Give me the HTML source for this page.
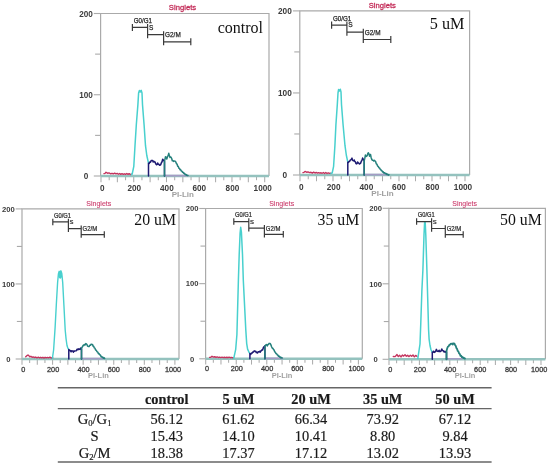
<!DOCTYPE html>
<html><head><meta charset="utf-8"><style>
html,body{margin:0;padding:0;background:#fff;}
svg{display:block;filter:blur(0.3px);}
</style></head><body>
<svg width="550" height="466" viewBox="0 0 550 466" font-family="Liberation Sans, sans-serif">
<rect width="550" height="466" fill="#fff"/>
<path d="M100.6 176V13.5H269V176" fill="none" stroke="#aaaaaa" stroke-width="1.2"/>
<line x1="93.8" y1="176" x2="100.6" y2="176" stroke="#aaaaaa" stroke-width="1.1"/>
<line x1="95.1" y1="135.38" x2="100.6" y2="135.38" stroke="#aaaaaa" stroke-width="1.1"/>
<line x1="93.8" y1="94.75" x2="100.6" y2="94.75" stroke="#aaaaaa" stroke-width="1.1"/>
<line x1="95.1" y1="54.12" x2="100.6" y2="54.12" stroke="#aaaaaa" stroke-width="1.1"/>
<line x1="93.8" y1="13.5" x2="100.6" y2="13.5" stroke="#aaaaaa" stroke-width="1.1"/>
<line x1="101" y1="176" x2="101" y2="182.2" stroke="#acacac" stroke-width="1.05"/>
<line x1="109.19" y1="176" x2="109.19" y2="180.2" stroke="#acacac" stroke-width="1.05"/>
<line x1="117.37" y1="176" x2="117.37" y2="182.2" stroke="#acacac" stroke-width="1.05"/>
<line x1="125.56" y1="176" x2="125.56" y2="180.2" stroke="#acacac" stroke-width="1.05"/>
<line x1="133.74" y1="176" x2="133.74" y2="182.2" stroke="#acacac" stroke-width="1.05"/>
<line x1="141.93" y1="176" x2="141.93" y2="180.2" stroke="#acacac" stroke-width="1.05"/>
<line x1="150.11" y1="176" x2="150.11" y2="182.2" stroke="#acacac" stroke-width="1.05"/>
<line x1="158.3" y1="176" x2="158.3" y2="180.2" stroke="#acacac" stroke-width="1.05"/>
<line x1="166.48" y1="176" x2="166.48" y2="182.2" stroke="#acacac" stroke-width="1.05"/>
<line x1="174.67" y1="176" x2="174.67" y2="180.2" stroke="#acacac" stroke-width="1.05"/>
<line x1="182.85" y1="176" x2="182.85" y2="182.2" stroke="#acacac" stroke-width="1.05"/>
<line x1="191.04" y1="176" x2="191.04" y2="180.2" stroke="#acacac" stroke-width="1.05"/>
<line x1="199.22" y1="176" x2="199.22" y2="182.2" stroke="#acacac" stroke-width="1.05"/>
<line x1="207.41" y1="176" x2="207.41" y2="180.2" stroke="#acacac" stroke-width="1.05"/>
<line x1="215.59" y1="176" x2="215.59" y2="182.2" stroke="#acacac" stroke-width="1.05"/>
<line x1="223.78" y1="176" x2="223.78" y2="180.2" stroke="#acacac" stroke-width="1.05"/>
<line x1="231.96" y1="176" x2="231.96" y2="182.2" stroke="#acacac" stroke-width="1.05"/>
<line x1="240.15" y1="176" x2="240.15" y2="180.2" stroke="#acacac" stroke-width="1.05"/>
<line x1="248.33" y1="176" x2="248.33" y2="182.2" stroke="#acacac" stroke-width="1.05"/>
<line x1="256.51" y1="176" x2="256.51" y2="180.2" stroke="#acacac" stroke-width="1.05"/>
<line x1="264.7" y1="176" x2="264.7" y2="182.2" stroke="#acacac" stroke-width="1.05"/>
<text x="86" y="179" text-anchor="middle" font-size="8.2" fill="#3c3c3c" font-weight="bold">0</text>
<text x="86" y="97.75" text-anchor="middle" font-size="8.2" fill="#3c3c3c" font-weight="bold">100</text>
<text x="86" y="16.5" text-anchor="middle" font-size="8.2" fill="#3c3c3c" font-weight="bold">200</text>
<text x="102.3" y="190.7" text-anchor="middle" font-size="8.2" fill="#3c3c3c" font-weight="bold">0</text>
<text x="134.34" y="190.7" text-anchor="middle" font-size="8.2" fill="#3c3c3c" font-weight="bold">200</text>
<text x="166.88" y="190.7" text-anchor="middle" font-size="8.2" fill="#3c3c3c" font-weight="bold">400</text>
<text x="199.22" y="190.7" text-anchor="middle" font-size="8.2" fill="#3c3c3c" font-weight="bold">600</text>
<text x="232.46" y="190.7" text-anchor="middle" font-size="8.2" fill="#3c3c3c" font-weight="bold">800</text>
<text x="262.7" y="190.7" text-anchor="middle" font-size="8.2" fill="#3c3c3c" font-weight="bold">1000</text>
<text x="182.85" y="196.8" text-anchor="middle" font-size="8" font-weight="bold" fill="#a0a0a0">PI-Lin</text>
<text x="168.8" y="9.8" textLength="27.4" lengthAdjust="spacingAndGlyphs" font-size="7.9" fill="#c42e5a" stroke="#c42e5a" stroke-width="0.3">Singlets</text>
<line x1="100.6" y1="176" x2="269" y2="176" stroke="#94c2be" stroke-width="2.5"/>
<path d="M104 173.6 L105 173.35 L106 172.25 L107.5 173.2 L109 172.83 L110.5 173.78 L112 173.4 L113.33 173.78 L114.67 173.15 L116 173.86 L117.2 173.43 L118.4 174.26 L119.6 173.51 L120.8 174.37 L122 173.67 L123.2 174.38 L124.4 173.78 L125.6 174.38 L126.8 173.54 L128 174.35 L129.17 173.65 L130.33 174.53 L131.5 174.2" fill="none" stroke="#c4345e" stroke-width="1.4" stroke-linejoin="round" stroke-linecap="round" opacity="1"/>
<path d="M131.5 174.4 L132.2 174 L133.8 166.3 L135 145.7 L136.3 125 L137.9 104.6 L138.6 93 L139.4 90.5 L140.3 92 L141.2 90.3 L142 93 L142.5 104.6 L144.1 125 L145.5 145.7 L146.8 155.5 L148.5 163.2" fill="none" stroke="#48d0ce" stroke-width="1.5" stroke-linejoin="round" stroke-linecap="round" opacity="1"/>
<path d="M164.5 175.6 L188 175.6" fill="none" stroke="#a49cc4" stroke-width="1.6" stroke-linejoin="round" stroke-linecap="round" opacity="1"/>
<path d="M148.5 176 L148.5 163.2 L149.1 163.58 L149.8 162.08 L150.5 162.23 L151.3 160.42 L152.1 160.42 L152.65 160.43 L153.2 161.98 L153.85 161.27 L154.5 161.88 L155.1 161.91 L155.7 163.67 L156.6 164.79 L157.15 164.43 L157.7 162.94 L158.25 164.2 L158.8 164.14 L159.4 165.18 L160 165.25 L160.7 164.62 L161.4 162.73 L162.05 161.77 L162.7 159.27 L163.6 160.43 L164.5 161.4 L164.5 176" fill="none" stroke="#1e1a72" stroke-width="1.5" stroke-linejoin="round" stroke-linecap="round" opacity="1"/>
<path d="M164.5 176 L164.5 161.4 L165.5 156.68 L166.15 157.28 L166.8 158.99 L167.47 156.73 L168.13 155.62 L168.8 153.31 L169.4 155.84 L170 157.36 L170.9 156.99 L171.6 158.33 L172.3 160.7 L172.9 160.6 L173.5 161.41 L174.1 160.96 L175 161.12 L175.7 161.8 L176.4 163.58 L177.05 164.07 L177.7 166.26 L178.3 166.5 L178.9 168.19 L179.5 168.41 L180.13 169.82 L180.77 169.86 L181.4 171.12 L182 171.29 L182.6 172.38 L183.2 172.26 L183.8 173.4 L184.4 173.27 L185 174.48 L185.6 174.17 L186.2 175.19 L186.8 175 L187.4 175.59 L188 175.6" fill="none" stroke="#24807c" stroke-width="1.5" stroke-linejoin="round" stroke-linecap="round" opacity="1"/>
<path d="M132.4 27.4H147.6M132.4 23.9V30.9M147.6 23.9V38.2M147.6 34.7H163.6M163.6 31.2V45.3M163.6 41.8H190.8M190.8 38.3V45.3" fill="none" stroke="#3a3a3a" stroke-width="1.2"/>
<text x="133.7" y="22.9" textLength="18.2" lengthAdjust="spacingAndGlyphs" font-size="7.1" fill="#262626" stroke="#262626" stroke-width="0.25">G0/G1</text>
<text x="148.9" y="29.7" font-size="6.53" fill="#262626" stroke="#262626" stroke-width="0.25">S</text>
<text x="165.1" y="37.4" textLength="15.6" lengthAdjust="spacingAndGlyphs" font-size="7.1" fill="#262626" stroke="#262626" stroke-width="0.25">G2/M</text>
<text x="217.7" y="32.6" font-family="Liberation Serif, serif" font-size="16" fill="#111">control</text>
<path d="M299.8 175V10.9H469.6V175" fill="none" stroke="#aaaaaa" stroke-width="1.2"/>
<line x1="292.95" y1="175" x2="299.8" y2="175" stroke="#aaaaaa" stroke-width="1.1"/>
<line x1="294.26" y1="133.97" x2="299.8" y2="133.97" stroke="#aaaaaa" stroke-width="1.1"/>
<line x1="292.95" y1="92.95" x2="299.8" y2="92.95" stroke="#aaaaaa" stroke-width="1.1"/>
<line x1="294.26" y1="51.92" x2="299.8" y2="51.92" stroke="#aaaaaa" stroke-width="1.1"/>
<line x1="292.95" y1="10.9" x2="299.8" y2="10.9" stroke="#aaaaaa" stroke-width="1.1"/>
<line x1="300" y1="175" x2="300" y2="181.25" stroke="#acacac" stroke-width="1.05"/>
<line x1="308.25" y1="175" x2="308.25" y2="179.23" stroke="#acacac" stroke-width="1.05"/>
<line x1="316.5" y1="175" x2="316.5" y2="181.25" stroke="#acacac" stroke-width="1.05"/>
<line x1="324.75" y1="175" x2="324.75" y2="179.23" stroke="#acacac" stroke-width="1.05"/>
<line x1="333" y1="175" x2="333" y2="181.25" stroke="#acacac" stroke-width="1.05"/>
<line x1="341.25" y1="175" x2="341.25" y2="179.23" stroke="#acacac" stroke-width="1.05"/>
<line x1="349.5" y1="175" x2="349.5" y2="181.25" stroke="#acacac" stroke-width="1.05"/>
<line x1="357.75" y1="175" x2="357.75" y2="179.23" stroke="#acacac" stroke-width="1.05"/>
<line x1="366" y1="175" x2="366" y2="181.25" stroke="#acacac" stroke-width="1.05"/>
<line x1="374.25" y1="175" x2="374.25" y2="179.23" stroke="#acacac" stroke-width="1.05"/>
<line x1="382.5" y1="175" x2="382.5" y2="181.25" stroke="#acacac" stroke-width="1.05"/>
<line x1="390.75" y1="175" x2="390.75" y2="179.23" stroke="#acacac" stroke-width="1.05"/>
<line x1="399" y1="175" x2="399" y2="181.25" stroke="#acacac" stroke-width="1.05"/>
<line x1="407.25" y1="175" x2="407.25" y2="179.23" stroke="#acacac" stroke-width="1.05"/>
<line x1="415.5" y1="175" x2="415.5" y2="181.25" stroke="#acacac" stroke-width="1.05"/>
<line x1="423.75" y1="175" x2="423.75" y2="179.23" stroke="#acacac" stroke-width="1.05"/>
<line x1="432" y1="175" x2="432" y2="181.25" stroke="#acacac" stroke-width="1.05"/>
<line x1="440.25" y1="175" x2="440.25" y2="179.23" stroke="#acacac" stroke-width="1.05"/>
<line x1="448.5" y1="175" x2="448.5" y2="181.25" stroke="#acacac" stroke-width="1.05"/>
<line x1="456.75" y1="175" x2="456.75" y2="179.23" stroke="#acacac" stroke-width="1.05"/>
<line x1="465" y1="175" x2="465" y2="181.25" stroke="#acacac" stroke-width="1.05"/>
<text x="284.88" y="178.02" text-anchor="middle" font-size="8.27" fill="#3c3c3c" font-weight="bold">0</text>
<text x="284.88" y="95.97" text-anchor="middle" font-size="8.27" fill="#3c3c3c" font-weight="bold">100</text>
<text x="284.88" y="13.92" text-anchor="middle" font-size="8.27" fill="#3c3c3c" font-weight="bold">200</text>
<text x="301.31" y="189.82" text-anchor="middle" font-size="8.27" fill="#3c3c3c" font-weight="bold">0</text>
<text x="333.6" y="189.82" text-anchor="middle" font-size="8.27" fill="#3c3c3c" font-weight="bold">200</text>
<text x="366.4" y="189.82" text-anchor="middle" font-size="8.27" fill="#3c3c3c" font-weight="bold">400</text>
<text x="399" y="189.82" text-anchor="middle" font-size="8.27" fill="#3c3c3c" font-weight="bold">600</text>
<text x="432.5" y="189.82" text-anchor="middle" font-size="8.27" fill="#3c3c3c" font-weight="bold">800</text>
<text x="462.98" y="189.82" text-anchor="middle" font-size="8.27" fill="#3c3c3c" font-weight="bold">1000</text>
<text x="382.5" y="195.97" text-anchor="middle" font-size="8.06" font-weight="bold" fill="#a0a0a0">PI-Lin</text>
<text x="368.7" y="7.59" textLength="27.2" lengthAdjust="spacingAndGlyphs" font-size="7.96" fill="#c42e5a" stroke="#c42e5a" stroke-width="0.3">Singlets</text>
<line x1="299.8" y1="175" x2="469.6" y2="175" stroke="#94c2be" stroke-width="2.5"/>
<path d="M303 172.6 L304 172.35 L305 171.39 L306.5 172.2 L308 171.97 L309.5 172.6 L311 172.29 L312.33 173.07 L313.67 172.16 L315 173.02 L316.2 172.43 L317.4 173.11 L318.6 172.58 L319.8 173.15 L321 172.79 L322.2 173.24 L323.4 172.52 L324.6 173.44 L325.8 172.56 L327 173.44 L328.33 172.83 L329.67 173.41 L331 173.2" fill="none" stroke="#c4345e" stroke-width="1.4" stroke-linejoin="round" stroke-linecap="round" opacity="1"/>
<path d="M331 173.4 L332.2 173 L333.6 166.3 L334.9 145.7 L335.9 125 L337.3 104.6 L338 93 L338.6 89.5 L339.5 91 L340.3 89.3 L341 92 L341.5 104.6 L343.1 125 L345 145.7 L346.3 155 L347.8 162.2" fill="none" stroke="#48d0ce" stroke-width="1.5" stroke-linejoin="round" stroke-linecap="round" opacity="1"/>
<path d="M364.2 174.6 L388 174.6" fill="none" stroke="#a49cc4" stroke-width="1.6" stroke-linejoin="round" stroke-linecap="round" opacity="1"/>
<path d="M347.8 175 L347.8 162.2 L348.5 162.53 L349.13 161.3 L349.77 161.22 L350.4 159.94 L351.2 159.63 L352 158.16 L352.55 160.12 L353.1 160.6 L353.65 160.96 L354.2 160.02 L354.8 161.49 L355.4 161.9 L355.95 163.6 L356.5 163.88 L357.05 163.61 L357.6 161.97 L358.15 162.9 L358.7 162.89 L359.3 163.99 L359.9 163.72 L360.6 163.32 L361.3 161.27 L361.95 160.4 L362.6 158.08 L363.5 159.71 L364.2 160.8 L364.2 175" fill="none" stroke="#1e1a72" stroke-width="1.5" stroke-linejoin="round" stroke-linecap="round" opacity="1"/>
<path d="M364.2 175 L364.2 160.8 L364.8 158.42 L365.4 155.04 L365.95 156.53 L366.5 156.37 L367.13 155.67 L367.77 153.6 L368.4 152.84 L368.95 153.86 L369.5 156.18 L370.5 154.47 L371.1 157.41 L371.7 159.23 L372.4 160.35 L373.1 160.36 L373.7 161.07 L374.3 160.34 L374.9 160.89 L375.6 161.46 L376.3 163.89 L376.95 164.27 L377.6 166.03 L378.23 166.39 L378.87 167.68 L379.5 167.91 L380.1 169.1 L380.7 169.38 L381.3 170.58 L381.9 170.67 L382.5 171.92 L383.1 171.75 L383.87 172.98 L384.63 172.68 L385.4 173.84 L386.13 173.44 L386.87 174.49 L387.6 174.23 L388.3 175.15 L389 174.8" fill="none" stroke="#24807c" stroke-width="1.5" stroke-linejoin="round" stroke-linecap="round" opacity="1"/>
<path d="M331.6 25.1H346.9M331.6 21.57V28.63M346.9 21.57V35.73M346.9 32.2H363.3M363.3 28.67V43.03M363.3 39.5H390.8M390.8 35.97V43.03" fill="none" stroke="#3a3a3a" stroke-width="1.2"/>
<text x="332.91" y="20.56" textLength="18.34" lengthAdjust="spacingAndGlyphs" font-size="7.16" fill="#262626" stroke="#262626" stroke-width="0.25">G0/G1</text>
<text x="348.21" y="27.42" font-size="6.58" fill="#262626" stroke="#262626" stroke-width="0.25">S</text>
<text x="364.81" y="34.92" textLength="15.72" lengthAdjust="spacingAndGlyphs" font-size="7.16" fill="#262626" stroke="#262626" stroke-width="0.25">G2/M</text>
<text x="429.8" y="28.7" font-family="Liberation Serif, serif" font-size="16.2" fill="#111">5 uM</text>
<path d="M22 359V208.9H179V359" fill="none" stroke="#aaaaaa" stroke-width="1.2"/>
<line x1="15.65" y1="359" x2="22" y2="359" stroke="#aaaaaa" stroke-width="1.1"/>
<line x1="16.86" y1="321.48" x2="22" y2="321.48" stroke="#aaaaaa" stroke-width="1.1"/>
<line x1="15.65" y1="283.95" x2="22" y2="283.95" stroke="#aaaaaa" stroke-width="1.1"/>
<line x1="16.86" y1="246.43" x2="22" y2="246.43" stroke="#aaaaaa" stroke-width="1.1"/>
<line x1="15.65" y1="208.9" x2="22" y2="208.9" stroke="#aaaaaa" stroke-width="1.1"/>
<line x1="22" y1="359" x2="22" y2="364.79" stroke="#acacac" stroke-width="1.05"/>
<line x1="29.64" y1="359" x2="29.64" y2="362.92" stroke="#acacac" stroke-width="1.05"/>
<line x1="37.29" y1="359" x2="37.29" y2="364.79" stroke="#acacac" stroke-width="1.05"/>
<line x1="44.94" y1="359" x2="44.94" y2="362.92" stroke="#acacac" stroke-width="1.05"/>
<line x1="52.58" y1="359" x2="52.58" y2="364.79" stroke="#acacac" stroke-width="1.05"/>
<line x1="60.23" y1="359" x2="60.23" y2="362.92" stroke="#acacac" stroke-width="1.05"/>
<line x1="67.87" y1="359" x2="67.87" y2="364.79" stroke="#acacac" stroke-width="1.05"/>
<line x1="75.52" y1="359" x2="75.52" y2="362.92" stroke="#acacac" stroke-width="1.05"/>
<line x1="83.16" y1="359" x2="83.16" y2="364.79" stroke="#acacac" stroke-width="1.05"/>
<line x1="90.81" y1="359" x2="90.81" y2="362.92" stroke="#acacac" stroke-width="1.05"/>
<line x1="98.45" y1="359" x2="98.45" y2="364.79" stroke="#acacac" stroke-width="1.05"/>
<line x1="106.09" y1="359" x2="106.09" y2="362.92" stroke="#acacac" stroke-width="1.05"/>
<line x1="113.74" y1="359" x2="113.74" y2="364.79" stroke="#acacac" stroke-width="1.05"/>
<line x1="121.39" y1="359" x2="121.39" y2="362.92" stroke="#acacac" stroke-width="1.05"/>
<line x1="129.03" y1="359" x2="129.03" y2="364.79" stroke="#acacac" stroke-width="1.05"/>
<line x1="136.68" y1="359" x2="136.68" y2="362.92" stroke="#acacac" stroke-width="1.05"/>
<line x1="144.32" y1="359" x2="144.32" y2="364.79" stroke="#acacac" stroke-width="1.05"/>
<line x1="151.97" y1="359" x2="151.97" y2="362.92" stroke="#acacac" stroke-width="1.05"/>
<line x1="159.61" y1="359" x2="159.61" y2="364.79" stroke="#acacac" stroke-width="1.05"/>
<line x1="167.25" y1="359" x2="167.25" y2="362.92" stroke="#acacac" stroke-width="1.05"/>
<line x1="174.9" y1="359" x2="174.9" y2="364.79" stroke="#acacac" stroke-width="1.05"/>
<text x="8.46" y="361.8" text-anchor="middle" font-size="7.66" fill="#3c3c3c" font-weight="bold">0</text>
<text x="8.46" y="286.75" text-anchor="middle" font-size="7.66" fill="#3c3c3c" font-weight="bold">100</text>
<text x="8.46" y="211.7" text-anchor="middle" font-size="7.66" fill="#3c3c3c" font-weight="bold">200</text>
<text x="23.21" y="371.61" text-anchor="middle" font-size="7.3" fill="#3c3c3c" stroke="#3c3c3c" stroke-width="0.3">0</text>
<text x="53.14" y="371.61" text-anchor="middle" font-size="7.3" fill="#3c3c3c" stroke="#3c3c3c" stroke-width="0.3">200</text>
<text x="83.53" y="371.61" text-anchor="middle" font-size="7.3" fill="#3c3c3c" stroke="#3c3c3c" stroke-width="0.3">400</text>
<text x="113.74" y="371.61" text-anchor="middle" font-size="7.3" fill="#3c3c3c" stroke="#3c3c3c" stroke-width="0.3">600</text>
<text x="144.79" y="371.61" text-anchor="middle" font-size="7.3" fill="#3c3c3c" stroke="#3c3c3c" stroke-width="0.3">800</text>
<text x="173.03" y="371.61" text-anchor="middle" font-size="7.3" fill="#3c3c3c" stroke="#3c3c3c" stroke-width="0.3">1000</text>
<text x="98.45" y="377.96" text-anchor="middle" font-size="7.47" font-weight="bold" fill="#a0a0a0">PI-Lin</text>
<text x="86.3" y="205.87" textLength="25" lengthAdjust="spacingAndGlyphs" font-size="7.38" fill="#cc3c6c" stroke="#cc3c6c" stroke-width="0.1">Singlets</text>
<line x1="22" y1="359" x2="179" y2="359" stroke="#94c2be" stroke-width="2.5"/>
<path d="M25.7 356.8 L27.4 355.16 L28.6 355.3 L29.8 356.9 L30.9 356.28 L32 357.2 L33.1 356.95 L34.4 357.48 L35.7 357.07 L37 357.79 L38.3 357.22 L39.6 357.85 L40.7 357.29 L41.8 357.84 L42.9 357.28 L44 358.08 L45.1 357.29 L46.2 357.88 L47.43 357.39 L48.65 357.82 L49.88 357.09 L51.1 357.94 L52.7 357.8" fill="none" stroke="#c4345e" stroke-width="1.4" stroke-linejoin="round" stroke-linecap="round" opacity="1"/>
<path d="M52.4 358.3 L53.6 350 L55.1 327.6 L56.3 305 L57.6 282.5 L58.4 274 L59.2 271.3 L60.1 272.6 L60.9 270.8 L61.8 273.5 L62.7 282.5 L63.9 305 L65.2 330 L66.1 339.1 L67 345.5 L67.9 348.2 L68.8 349.5" fill="none" stroke="#48d0ce" stroke-width="1.4" stroke-linejoin="round" stroke-linecap="round" opacity="1"/>
<path d="M58.4 274 L59.2 271.3 L60.1 272.6 L60.9 270.8 L61.8 273.5 L62.1 277 L60.2 279 L58.2 277Z" fill="#48d0ce" stroke="none"/>
<path d="M81.5 358.6 L104 358.6" fill="none" stroke="#a49cc4" stroke-width="1.6" stroke-linejoin="round" stroke-linecap="round" opacity="1"/>
<path d="M68.8 359 L68.8 349.5 L69.7 350.49 L70.4 350.52 L71.1 351.81 L71.65 350.72 L72.2 351 L72.8 350.97 L73.4 352.26 L74.05 350.85 L74.7 351.15 L75.6 350.9 L76.3 350.7 L77 349.22 L77.6 349.71 L78.2 348.83 L78.75 349.46 L79.3 349.05 L79.95 349.4 L80.6 348.14 L81.5 348.6 L81.5 359" fill="none" stroke="#1e1a72" stroke-width="1.5" stroke-linejoin="round" stroke-linecap="round" opacity="1"/>
<path d="M81.5 359 L81.5 348 L82.5 346.74 L83.15 345.26 L83.8 345.49 L84.5 344.48 L85.2 344.92 L85.8 343.65 L86.4 343.99 L86.95 344.54 L87.5 346.08 L88.5 346.5 L89.1 346.57 L89.7 345.24 L90.4 345.34 L91.1 344.22 L92 344.55 L92.55 344.52 L93.1 346.21 L93.7 346.3 L94.3 347.9 L94.95 348.16 L95.6 349.96 L96.3 350.23 L97 351.8 L97.7 351.94 L98.4 353.69 L99.05 353.61 L99.7 354.85 L100.4 354.99 L101.1 356.78 L101.7 356.56 L102.3 357.47 L102.9 357.22 L103.5 358.3 L104.1 357.73 L104.7 358.5" fill="none" stroke="#24807c" stroke-width="1.5" stroke-linejoin="round" stroke-linecap="round" opacity="1"/>
<path d="M52.8 221.9H68.4M52.8 218.63V225.17M68.4 218.63V231.97M68.4 228.7H81.2M81.2 225.43V237.87M81.2 234.6H104.3M104.3 231.33V237.87" fill="none" stroke="#3a3a3a" stroke-width="1.2"/>
<text x="54.01" y="217.7" textLength="17" lengthAdjust="spacingAndGlyphs" font-size="6.35" fill="#262626" stroke="#262626" stroke-width="0.2">G0/G1</text>
<text x="69.61" y="224.05" font-size="5.84" fill="#262626" stroke="#262626" stroke-width="0.2">S</text>
<text x="82.6" y="231.22" textLength="14.57" lengthAdjust="spacingAndGlyphs" font-size="6.35" fill="#262626" stroke="#262626" stroke-width="0.2">G2/M</text>
<text x="134.3" y="225.4" font-family="Liberation Serif, serif" font-size="15.8" fill="#111">20 uM</text>
<path d="M205.6 358.8V208.5H362.3V358.8" fill="none" stroke="#aaaaaa" stroke-width="1.2"/>
<line x1="199.26" y1="358.8" x2="205.6" y2="358.8" stroke="#aaaaaa" stroke-width="1.1"/>
<line x1="200.47" y1="321.23" x2="205.6" y2="321.23" stroke="#aaaaaa" stroke-width="1.1"/>
<line x1="199.26" y1="283.65" x2="205.6" y2="283.65" stroke="#aaaaaa" stroke-width="1.1"/>
<line x1="200.47" y1="246.08" x2="205.6" y2="246.08" stroke="#aaaaaa" stroke-width="1.1"/>
<line x1="199.26" y1="208.5" x2="205.6" y2="208.5" stroke="#aaaaaa" stroke-width="1.1"/>
<line x1="205.7" y1="358.8" x2="205.7" y2="364.58" stroke="#acacac" stroke-width="1.05"/>
<line x1="213.33" y1="358.8" x2="213.33" y2="362.72" stroke="#acacac" stroke-width="1.05"/>
<line x1="220.97" y1="358.8" x2="220.97" y2="364.58" stroke="#acacac" stroke-width="1.05"/>
<line x1="228.6" y1="358.8" x2="228.6" y2="362.72" stroke="#acacac" stroke-width="1.05"/>
<line x1="236.24" y1="358.8" x2="236.24" y2="364.58" stroke="#acacac" stroke-width="1.05"/>
<line x1="243.88" y1="358.8" x2="243.88" y2="362.72" stroke="#acacac" stroke-width="1.05"/>
<line x1="251.51" y1="358.8" x2="251.51" y2="364.58" stroke="#acacac" stroke-width="1.05"/>
<line x1="259.14" y1="358.8" x2="259.14" y2="362.72" stroke="#acacac" stroke-width="1.05"/>
<line x1="266.78" y1="358.8" x2="266.78" y2="364.58" stroke="#acacac" stroke-width="1.05"/>
<line x1="274.41" y1="358.8" x2="274.41" y2="362.72" stroke="#acacac" stroke-width="1.05"/>
<line x1="282.05" y1="358.8" x2="282.05" y2="364.58" stroke="#acacac" stroke-width="1.05"/>
<line x1="289.69" y1="358.8" x2="289.69" y2="362.72" stroke="#acacac" stroke-width="1.05"/>
<line x1="297.32" y1="358.8" x2="297.32" y2="364.58" stroke="#acacac" stroke-width="1.05"/>
<line x1="304.95" y1="358.8" x2="304.95" y2="362.72" stroke="#acacac" stroke-width="1.05"/>
<line x1="312.59" y1="358.8" x2="312.59" y2="364.58" stroke="#acacac" stroke-width="1.05"/>
<line x1="320.23" y1="358.8" x2="320.23" y2="362.72" stroke="#acacac" stroke-width="1.05"/>
<line x1="327.86" y1="358.8" x2="327.86" y2="364.58" stroke="#acacac" stroke-width="1.05"/>
<line x1="335.5" y1="358.8" x2="335.5" y2="362.72" stroke="#acacac" stroke-width="1.05"/>
<line x1="343.13" y1="358.8" x2="343.13" y2="364.58" stroke="#acacac" stroke-width="1.05"/>
<line x1="350.76" y1="358.8" x2="350.76" y2="362.72" stroke="#acacac" stroke-width="1.05"/>
<line x1="358.4" y1="358.8" x2="358.4" y2="364.58" stroke="#acacac" stroke-width="1.05"/>
<text x="192.17" y="361.6" text-anchor="middle" font-size="7.65" fill="#3c3c3c" font-weight="bold">0</text>
<text x="192.17" y="286.45" text-anchor="middle" font-size="7.65" fill="#3c3c3c" font-weight="bold">100</text>
<text x="192.17" y="211.3" text-anchor="middle" font-size="7.65" fill="#3c3c3c" font-weight="bold">200</text>
<text x="206.91" y="371.39" text-anchor="middle" font-size="7.3" fill="#3c3c3c" stroke="#3c3c3c" stroke-width="0.3">0</text>
<text x="236.8" y="371.39" text-anchor="middle" font-size="7.3" fill="#3c3c3c" stroke="#3c3c3c" stroke-width="0.3">200</text>
<text x="267.15" y="371.39" text-anchor="middle" font-size="7.3" fill="#3c3c3c" stroke="#3c3c3c" stroke-width="0.3">400</text>
<text x="297.32" y="371.39" text-anchor="middle" font-size="7.3" fill="#3c3c3c" stroke="#3c3c3c" stroke-width="0.3">600</text>
<text x="328.33" y="371.39" text-anchor="middle" font-size="7.3" fill="#3c3c3c" stroke="#3c3c3c" stroke-width="0.3">800</text>
<text x="356.53" y="371.39" text-anchor="middle" font-size="7.3" fill="#3c3c3c" stroke="#3c3c3c" stroke-width="0.3">1000</text>
<text x="282.05" y="377.74" text-anchor="middle" font-size="7.46" font-weight="bold" fill="#a0a0a0">PI-Lin</text>
<text x="269.2" y="205.57" textLength="25" lengthAdjust="spacingAndGlyphs" font-size="7.37" fill="#cc3c6c" stroke="#cc3c6c" stroke-width="0.1">Singlets</text>
<line x1="205.6" y1="358.8" x2="362.3" y2="358.8" stroke="#94c2be" stroke-width="2.5"/>
<path d="M209.6 357.4 L210.8 357.32 L212 356.26 L213.33 357.08 L214.67 356.73 L216 357.44 L217.2 356.84 L218.4 357.5 L219.6 357.14 L220.8 357.57 L222 357.19 L223.2 357.65 L224.4 357.23 L225.6 357.63 L226.8 357.26 L228 357.72 L229.1 357.23 L230.2 357.73 L231.3 357.4 L232.4 357.77 L233.5 357.6" fill="none" stroke="#c4345e" stroke-width="1.4" stroke-linejoin="round" stroke-linecap="round" opacity="1"/>
<path d="M233.8 358.2 L235.7 349.3 L236.9 334.7 L238.4 280 L239.2 254.5 L240.1 233 L240.7 227.3 L241.4 232 L242.5 254.5 L243.3 280 L245.8 330 L246.7 343.6 L247.6 349.1 L249 352.3 L249.8 353.2" fill="none" stroke="#48d0ce" stroke-width="1.5" stroke-linejoin="round" stroke-linecap="round" opacity="1"/>
<path d="M264.9 358.4 L282.6 358.4" fill="none" stroke="#a49cc4" stroke-width="1.6" stroke-linejoin="round" stroke-linecap="round" opacity="1"/>
<path d="M249.9 358.8 L249.9 353.4 L250.8 354.33 L251.5 353 L252.2 353.08 L252.85 351.92 L253.5 352.05 L254.2 350.82 L254.9 351.14 L255.6 351.16 L256.3 352.64 L256.95 352.25 L257.6 352.88 L258.3 351.75 L259 351.77 L259.6 351.4 L260.2 352.23 L260.75 350.9 L261.3 350.75 L261.95 349.81 L262.6 350 L263.5 347.28 L264.5 346.36 L264.9 345.9 L264.9 358.8" fill="none" stroke="#1e1a72" stroke-width="1.5" stroke-linejoin="round" stroke-linecap="round" opacity="1"/>
<path d="M264.9 358.8 L264.9 345.9 L265.8 344.98 L266.5 344.52 L267.2 345.97 L267.85 344.6 L268.5 344.47 L269.1 343.34 L269.7 343.55 L270.25 343.58 L270.8 344.64 L271.7 346.98 L272.3 348.2 L272.9 348.28 L273.45 349.48 L274 349.8 L274.7 351.76 L275.4 352.39 L276.05 353.74 L276.7 353.69 L277.3 354.99 L277.9 355.11 L278.5 356.33 L279.13 356 L279.77 357.22 L280.4 356.92 L281 358.02 L281.6 357.47 L282.2 358" fill="none" stroke="#24807c" stroke-width="1.5" stroke-linejoin="round" stroke-linecap="round" opacity="1"/>
<path d="M233.8 221.6H248.8M233.8 218.34V224.86M248.8 218.34V231.46M248.8 228.2H264.4M264.4 224.94V237.56M264.4 234.3H283.3M283.3 231.04V237.56" fill="none" stroke="#3a3a3a" stroke-width="1.2"/>
<text x="235.01" y="217.4" textLength="16.98" lengthAdjust="spacingAndGlyphs" font-size="6.34" fill="#262626" stroke="#262626" stroke-width="0.2">G0/G1</text>
<text x="250.01" y="223.75" font-size="5.84" fill="#262626" stroke="#262626" stroke-width="0.2">S</text>
<text x="265.8" y="230.72" textLength="14.55" lengthAdjust="spacingAndGlyphs" font-size="6.34" fill="#262626" stroke="#262626" stroke-width="0.2">G2/M</text>
<text x="317.5" y="225.2" font-family="Liberation Serif, serif" font-size="15.8" fill="#111">35 uM</text>
<path d="M388.9 359.3V208.3H545.4V359.3" fill="none" stroke="#aaaaaa" stroke-width="1.2"/>
<line x1="382.59" y1="359.3" x2="388.9" y2="359.3" stroke="#aaaaaa" stroke-width="1.1"/>
<line x1="383.79" y1="321.55" x2="388.9" y2="321.55" stroke="#aaaaaa" stroke-width="1.1"/>
<line x1="382.59" y1="283.8" x2="388.9" y2="283.8" stroke="#aaaaaa" stroke-width="1.1"/>
<line x1="383.79" y1="246.05" x2="388.9" y2="246.05" stroke="#aaaaaa" stroke-width="1.1"/>
<line x1="382.59" y1="208.3" x2="388.9" y2="208.3" stroke="#aaaaaa" stroke-width="1.1"/>
<line x1="389" y1="359.3" x2="389" y2="365.06" stroke="#acacac" stroke-width="1.05"/>
<line x1="396.6" y1="359.3" x2="396.6" y2="363.2" stroke="#acacac" stroke-width="1.05"/>
<line x1="404.2" y1="359.3" x2="404.2" y2="365.06" stroke="#acacac" stroke-width="1.05"/>
<line x1="411.8" y1="359.3" x2="411.8" y2="363.2" stroke="#acacac" stroke-width="1.05"/>
<line x1="419.4" y1="359.3" x2="419.4" y2="365.06" stroke="#acacac" stroke-width="1.05"/>
<line x1="427" y1="359.3" x2="427" y2="363.2" stroke="#acacac" stroke-width="1.05"/>
<line x1="434.6" y1="359.3" x2="434.6" y2="365.06" stroke="#acacac" stroke-width="1.05"/>
<line x1="442.2" y1="359.3" x2="442.2" y2="363.2" stroke="#acacac" stroke-width="1.05"/>
<line x1="449.8" y1="359.3" x2="449.8" y2="365.06" stroke="#acacac" stroke-width="1.05"/>
<line x1="457.4" y1="359.3" x2="457.4" y2="363.2" stroke="#acacac" stroke-width="1.05"/>
<line x1="465" y1="359.3" x2="465" y2="365.06" stroke="#acacac" stroke-width="1.05"/>
<line x1="472.6" y1="359.3" x2="472.6" y2="363.2" stroke="#acacac" stroke-width="1.05"/>
<line x1="480.2" y1="359.3" x2="480.2" y2="365.06" stroke="#acacac" stroke-width="1.05"/>
<line x1="487.8" y1="359.3" x2="487.8" y2="363.2" stroke="#acacac" stroke-width="1.05"/>
<line x1="495.4" y1="359.3" x2="495.4" y2="365.06" stroke="#acacac" stroke-width="1.05"/>
<line x1="503" y1="359.3" x2="503" y2="363.2" stroke="#acacac" stroke-width="1.05"/>
<line x1="510.6" y1="359.3" x2="510.6" y2="365.06" stroke="#acacac" stroke-width="1.05"/>
<line x1="518.2" y1="359.3" x2="518.2" y2="363.2" stroke="#acacac" stroke-width="1.05"/>
<line x1="525.8" y1="359.3" x2="525.8" y2="365.06" stroke="#acacac" stroke-width="1.05"/>
<line x1="533.4" y1="359.3" x2="533.4" y2="363.2" stroke="#acacac" stroke-width="1.05"/>
<line x1="541" y1="359.3" x2="541" y2="365.06" stroke="#acacac" stroke-width="1.05"/>
<text x="375.54" y="362.09" text-anchor="middle" font-size="7.61" fill="#3c3c3c" font-weight="bold">0</text>
<text x="375.54" y="286.59" text-anchor="middle" font-size="7.61" fill="#3c3c3c" font-weight="bold">100</text>
<text x="375.54" y="211.09" text-anchor="middle" font-size="7.61" fill="#3c3c3c" font-weight="bold">200</text>
<text x="390.21" y="371.84" text-anchor="middle" font-size="7.3" fill="#3c3c3c" stroke="#3c3c3c" stroke-width="0.3">0</text>
<text x="419.96" y="371.84" text-anchor="middle" font-size="7.3" fill="#3c3c3c" stroke="#3c3c3c" stroke-width="0.3">200</text>
<text x="450.17" y="371.84" text-anchor="middle" font-size="7.3" fill="#3c3c3c" stroke="#3c3c3c" stroke-width="0.3">400</text>
<text x="480.2" y="371.84" text-anchor="middle" font-size="7.3" fill="#3c3c3c" stroke="#3c3c3c" stroke-width="0.3">600</text>
<text x="511.06" y="371.84" text-anchor="middle" font-size="7.3" fill="#3c3c3c" stroke="#3c3c3c" stroke-width="0.3">800</text>
<text x="539.14" y="371.84" text-anchor="middle" font-size="7.3" fill="#3c3c3c" stroke="#3c3c3c" stroke-width="0.3">1000</text>
<text x="465" y="378.15" text-anchor="middle" font-size="7.43" font-weight="bold" fill="#a0a0a0">PI-Lin</text>
<text x="452.3" y="205.58" textLength="24.7" lengthAdjust="spacingAndGlyphs" font-size="7.34" fill="#cc3c6c" stroke="#cc3c6c" stroke-width="0.1">Singlets</text>
<line x1="388.9" y1="359.3" x2="545.4" y2="359.3" stroke="#94c2be" stroke-width="2.5"/>
<path d="M393.3 356.5 L395.15 356.6 L397 354.55 L398.33 356.56 L399.67 355.34 L401 356.92 L402.33 355.1 L403.67 356.11 L405 354.63 L406.33 356.25 L407.67 355.32 L409 356.63 L410.33 355.2 L411.67 356.3 L413 355 L414.33 356.86 L415.67 355.45 L417 356.3" fill="none" stroke="#c4345e" stroke-width="1.4" stroke-linejoin="round" stroke-linecap="round" opacity="1"/>
<path d="M417.8 358.6 L420 344 L420.8 322.7 L421.9 290 L422.9 270 L424 235 L424.6 222.5 L425.2 222.3 L425.8 235 L426.9 270 L428.6 330 L429.1 339.1 L430 345.5 L430.9 349.5 L432.3 352.3" fill="none" stroke="#48d0ce" stroke-width="1.5" stroke-linejoin="round" stroke-linecap="round" opacity="1"/>
<path d="M446.5 358.8 L462 358.8" fill="none" stroke="#a49cc4" stroke-width="1.6" stroke-linejoin="round" stroke-linecap="round" opacity="1"/>
<path d="M432.3 359.3 L432.3 352.3 L432.95 352.34 L433.6 351.2 L434.3 352.44 L435 352.06 L435.7 351.25 L436.4 349.36 L437.05 350.98 L437.7 351.3 L438.4 351.49 L439.1 350.27 L439.8 351.62 L440.5 351.47 L441.15 350.85 L441.8 349.03 L442.5 350.56 L443.2 350.7 L443.85 351.8 L444.5 351.37 L445.17 352.22 L445.83 351.41 L446.5 351.8 L446.5 359.3" fill="none" stroke="#1e1a72" stroke-width="1.5" stroke-linejoin="round" stroke-linecap="round" opacity="1"/>
<path d="M446.5 359.3 L446.5 351 L447.3 348.05 L447.95 346.51 L448.6 346.35 L449.3 344.93 L450 344.84 L450.7 343.76 L451.4 343.91 L452.05 343.51 L452.7 344.61 L453.3 343.48 L453.9 343.45 L454.45 343.56 L455 345 L455.7 345.82 L456.4 348.07 L457.05 348.79 L457.7 350.91 L458.4 351.53 L459.1 353.43 L459.8 354.03 L460.5 355.81 L461.15 355.72 L461.8 357.16 L462.5 357.01 L463.2 358.09 L463.8 357.69 L464.4 358.57 L465 358.5" fill="none" stroke="#24807c" stroke-width="1.8" stroke-linejoin="round" stroke-linecap="round" opacity="1"/>
<path d="M416.6 221.6H431.6M416.6 218.35V224.85M431.6 218.35V231.75M431.6 228.5H445.3M445.3 225.25V237.85M445.3 234.6H463.2M463.2 231.35V237.85" fill="none" stroke="#3a3a3a" stroke-width="1.2"/>
<text x="417.81" y="217.42" textLength="16.9" lengthAdjust="spacingAndGlyphs" font-size="6.31" fill="#262626" stroke="#262626" stroke-width="0.2">G0/G1</text>
<text x="432.81" y="223.74" font-size="5.81" fill="#262626" stroke="#262626" stroke-width="0.2">S</text>
<text x="446.69" y="231.01" textLength="14.49" lengthAdjust="spacingAndGlyphs" font-size="6.31" fill="#262626" stroke="#262626" stroke-width="0.2">G2/M</text>
<text x="500" y="225" font-family="Liberation Serif, serif" font-size="15.8" fill="#111">50 uM</text>
<g font-family="Liberation Serif, serif" fill="#1a1a1a" stroke="#1a1a1a" stroke-width="0.2">
<line x1="57.8" y1="387.8" x2="491.6" y2="387.8" stroke="#666" stroke-width="1.4"/>
<line x1="57.8" y1="408.7" x2="491.6" y2="408.7" stroke="#666" stroke-width="1.3"/>
<line x1="57.8" y1="462" x2="491.6" y2="462" stroke="#666" stroke-width="1.4"/>
<text x="166.7" y="403.8" text-anchor="middle" font-weight="bold" font-size="14.3">control</text>
<text x="238.5" y="403.8" text-anchor="middle" font-weight="bold" font-size="14.3">5 uM</text>
<text x="311" y="403.8" text-anchor="middle" font-weight="bold" font-size="14.3">20 uM</text>
<text x="382.7" y="403.8" text-anchor="middle" font-weight="bold" font-size="14.3">35 uM</text>
<text x="455" y="403.8" text-anchor="middle" font-weight="bold" font-size="14.3">50 uM</text>
<text x="94.6" y="423.9" text-anchor="middle" font-size="14.6">G<tspan font-size="8.6" dy="1.8">0</tspan><tspan dy="-1.8">/G</tspan><tspan font-size="8.6" dy="1.8">1</tspan></text>
<text x="166.7" y="423.9" text-anchor="middle" font-size="14.4">56.12</text>
<text x="238.5" y="423.9" text-anchor="middle" font-size="14.4">61.62</text>
<text x="311" y="423.9" text-anchor="middle" font-size="14.4">66.34</text>
<text x="382.7" y="423.9" text-anchor="middle" font-size="14.4">73.92</text>
<text x="455" y="423.9" text-anchor="middle" font-size="14.4">67.12</text>
<text x="94.6" y="440.6" text-anchor="middle" font-size="14.6">S</text>
<text x="166.7" y="440.6" text-anchor="middle" font-size="14.4">15.43</text>
<text x="238.5" y="440.6" text-anchor="middle" font-size="14.4">14.10</text>
<text x="311" y="440.6" text-anchor="middle" font-size="14.4">10.41</text>
<text x="382.7" y="440.6" text-anchor="middle" font-size="14.4">8.80</text>
<text x="455" y="440.6" text-anchor="middle" font-size="14.4">9.84</text>
<text x="94.6" y="458.2" text-anchor="middle" font-size="14.6">G<tspan font-size="8.6" dy="1.8">2</tspan><tspan dy="-1.8">/M</tspan></text>
<text x="166.7" y="458.2" text-anchor="middle" font-size="14.4">18.38</text>
<text x="238.5" y="458.2" text-anchor="middle" font-size="14.4">17.37</text>
<text x="311" y="458.2" text-anchor="middle" font-size="14.4">17.12</text>
<text x="382.7" y="458.2" text-anchor="middle" font-size="14.4">13.02</text>
<text x="455" y="458.2" text-anchor="middle" font-size="14.4">13.93</text>
</g>
</svg>
</body></html>
